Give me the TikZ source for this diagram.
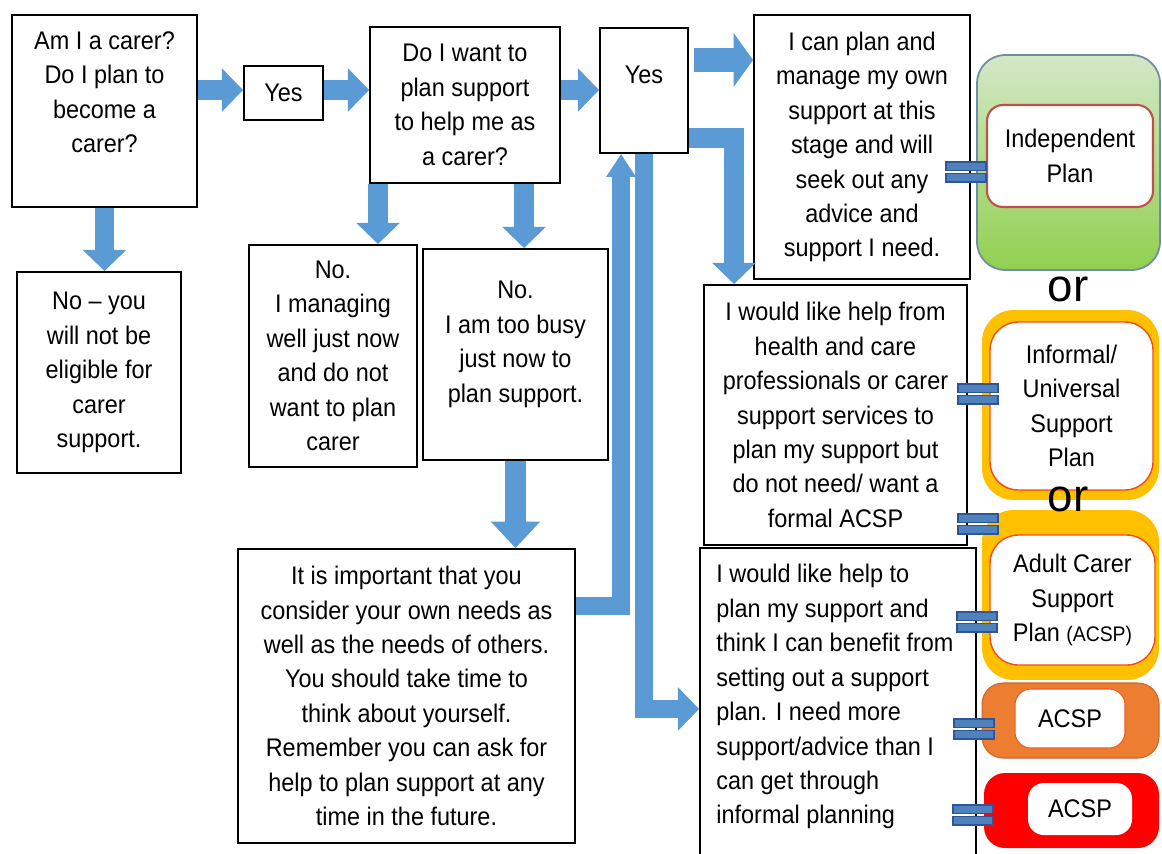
\documentclass[tikz,border=0pt]{standalone}
\usepackage{fontspec}
\setmainfont[FakeStretch=0.92]{Liberation Sans}
\newfontfamily\orfont{Liberation Sans}
\usetikzlibrary{arrows.meta,positioning,calc}

\definecolor{arrowblue}{HTML}{5B9BD5}
\definecolor{barblue}{HTML}{4F81BD}
\definecolor{bardark}{HTML}{2F5597}
\definecolor{planamber}{HTML}{FFC000}
\definecolor{planorange}{HTML}{ED7D31}
\definecolor{planred}{HTML}{FF0000}
\definecolor{greenpale}{HTML}{D3E7C6}
\definecolor{greenleaf}{HTML}{92D050}
\definecolor{rimred}{HTML}{C0504D}
\definecolor{rimgrey}{HTML}{6F8CA8}

\begin{document}
\begin{tikzpicture}[x=0.02cm, y=-0.02cm,
    panel/.style={draw, line width=1.1pt, inner sep=0pt},
    words/.style={align=center, inner sep=0pt, font=\fontsize{14.5}{19.6}\selectfont},
    blockarrow/.style={arrowblue, line width=11pt, -{Triangle[length=12pt, width=24pt]}},
    narrowtip/.style={-{Triangle[length=13pt, width=16pt]}},
    widetip/.style={line width=14pt, -{Triangle[length=11pt, width=30pt]}},
    outerplan/.style={inner sep=0pt, rounded corners=12pt},
    innerplan/.style={fill=white, inner sep=0pt, rounded corners=9pt},
    eqbar/.style={fill=barblue, draw=bardark, line width=0.6pt},
]

% page
    \fill[white] (0,0) rectangle (1162,853);
    \useasboundingbox (0,0) rectangle (1162,853);

% question boxes
    \node[panel, minimum width=3.70cm, minimum height=3.84cm] (q1) at (104.5,111) {};
    \node[panel, minimum width=1.58cm, minimum height=1.08cm] (yes1) at (283.5,93) {};
    \node[panel, minimum width=3.80cm, minimum height=3.12cm] (q2) at (465,105) {};
    \node[panel, minimum width=1.76cm, minimum height=2.50cm] (yes2) at (644,90.5) {};
    \node[panel, minimum width=4.32cm, minimum height=5.28cm] (self) at (862,147) {};
% answer boxes
    \node[panel, minimum width=3.28cm, minimum height=4.02cm] (noelig) at (99,372.5) {};
    \node[panel, minimum width=3.36cm, minimum height=4.44cm] (nomanage) at (333,356) {};
    \node[panel, minimum width=3.70cm, minimum height=4.22cm] (nobusy) at (515.5,354.5) {};
    \node[panel, minimum width=6.74cm, minimum height=5.88cm] (important) at (406.5,696) {};
    \node[panel, minimum width=5.26cm, minimum height=5.20cm] (informal) at (835.5,415) {};
    \node[panel, minimum width=5.52cm, minimum height=6.20cm] (acsp) at (838,703) {};

% texts
    \node[words, below=0.34cm of q1.north] (q1text)
        {Am I a carer?\\ Do I plan to\\ become a\\ carer?};
    \node[words] (yes1text) at (yes1) {Yes};
    \node[words] (q2text) at (q2)
        {Do I want to\\ plan support\\ to help me as\\ a carer?};
    \node[words, below=0.78cm of yes2.north] (yes2text) {Yes};
    \node[words] (selftext) at (self)
        {I can plan and\\ manage my own\\ support at this\\ stage and will\\ seek out any\\ advice and\\ support I need.};
    \node[words] (noeligtext) at (noelig)
        {No – you\\ will not be\\ eligible for\\ carer\\ support.};
    \node[words] (nomanagetext) at (nomanage)
        {No.\\ I managing\\ well just now\\ and do not\\ want to plan\\ carer};
    \node[words, below=0.66cm of nobusy.north] (nobusytext)
        {No.\\ I am too busy\\ just now to\\ plan support.};
    \node[words] (importanttext) at (important)
        {It is important that you\\ consider your own needs as\\ well as the needs of others.\\ You should take time to\\ think about yourself.\\ Remember you can ask for\\ help to plan support at any\\ time in the future.};
    \node[words] (informaltext) at (informal)
        {I would like help from\\ health and care\\ professionals or carer\\ support services to\\ plan my support but\\ do not need/ want a\\ formal ACSP};
    \node[words, align=left, below right=0.34cm and 0.34cm of acsp.north west] (acsptext)
        {I would like help to\\ plan my support and\\ think I can benefit from\\ setting out a support\\ plan. I need more\\ support/advice than I\\ can get through\\ informal planning};

% arrows along the top
    \coordinate (rowtop) at (0,90);
    \coordinate (rowself) at (0,60);
    \draw[blockarrow] (q1.east |- rowtop) -- (yes1.west |- rowtop);
    \draw[blockarrow] (yes1.east |- rowtop) -- (q2.west |- rowtop);
    \draw[blockarrow] (q2.east |- rowtop) -- (yes2.west |- rowtop);
    \draw[blockarrow, widetip, shorten <=3pt] (yes2.east |- rowself) -- (self.west |- rowself);

% arrows going down
    \coordinate (dropA) at ($(q2.south west)+(9,0)$);
    \coordinate (dropB) at ($(q2.south west)+(155,0)$);
    \draw[blockarrow] (q1.south) -- (q1.south |- noelig.north);
    \draw[blockarrow] (dropA) -- (dropA |- nomanage.north);
    \draw[blockarrow] (dropB) -- (dropB |- nobusy.north);
    \draw[blockarrow, line width=12.5pt, -{Triangle[length=15pt, width=27pt]}]
        (nobusy.south) -- (nobusy.south |- important.north);

% bent arrows round the second yes
    \coordinate (bendA) at ($(informal.north west)+(31,0)$);
    \coordinate (bendB) at ($(yes2.south west)+(22,0)$);
    \draw[blockarrow] ($(yes2.south east)+(0,-16)$) -| (bendA);
    \draw[blockarrow, line width=10.5pt, narrowtip] ($(important.east)+(0,-90)$) -| (bendB);
    \draw[blockarrow, line width=10.5pt] (yes2.south) |- ($(acsp.west)+(0,6)$);

% independent plan
    \node[outerplan, draw=rimgrey, line width=1pt, top color=greenpale, bottom color=greenleaf,
        rounded corners=16pt, minimum width=3.66cm, minimum height=4.30cm] (indepbox) at (1068.5,162.5) {};
    \node[innerplan, draw=rimred, line width=1.2pt, minimum width=3.32cm, minimum height=2.04cm] (indep) at (1070,156) {};
    \node[words] (indeptext) at (indep) {Independent\\ Plan};

% informal plan
    \node[outerplan, fill=planamber, rounded corners=18pt, minimum width=3.54cm, minimum height=3.80cm] (infobox) at (1070.5,405) {};
    \node[innerplan, draw=planorange!60!red, line width=0.8pt, rounded corners=16pt,
        minimum width=3.26cm, minimum height=3.36cm] (info) at (1071.5,406) {};
    \node[words] (infotext) at (info) {Informal/\\ Universal\\ Support\\ Plan};

% adult carer support plan
    \node[outerplan, fill=planamber, rounded corners=18pt, minimum width=3.54cm, minimum height=3.40cm] (adultbox) at (1070.5,595) {};
    \node[innerplan, draw=planorange!60!red, line width=0.8pt, rounded corners=16pt,
        minimum width=3.30cm, minimum height=2.60cm] (adult) at (1072.5,600) {};
    \node[words] (adulttext) at (adult) {Adult Carer\\ Support\\ Plan {\fontsize{12}{19.6}\selectfont(ACSP)}};

% acsp boxes
    \node[outerplan, fill=planorange, draw=planorange!85!black, line width=0.6pt,
        minimum width=3.54cm, minimum height=1.50cm] (acspAbox) at (1070.5,720.5) {};
    \node[innerplan, draw=planorange!70!red, line width=0.6pt, minimum width=2.20cm, minimum height=1.18cm] (acspA) at (1070,718.5) {};
    \node[words] (acspAtext) at (acspA) {ACSP};
    \node[outerplan, fill=planred, minimum width=3.50cm, minimum height=1.50cm] (acspBbox) at (1071.5,810.5) {};
    \node[innerplan, minimum width=2.08cm, minimum height=1.04cm] (acspB) at (1080,809) {};
    \node[words] (acspBtext) at (acspB) {ACSP};

% or
    \node[inner sep=0pt, font=\orfont\fontsize{26}{30}\selectfont] (or1) at (1068,289) {or};
    \node[inner sep=0pt, font=\orfont\fontsize{26}{30}\selectfont] (or2) at (1068,499) {or};

% equals marks
    \foreach \x/\y in {946/172, 958/394, 958/524, 957/622, 954/729, 953/815} {
        \draw[eqbar] (\x,\y-10) rectangle ++(40,8.5);
        \draw[eqbar] (\x,\y+1.5) rectangle ++(40,8.5);
    }

\end{tikzpicture}
\end{document}
